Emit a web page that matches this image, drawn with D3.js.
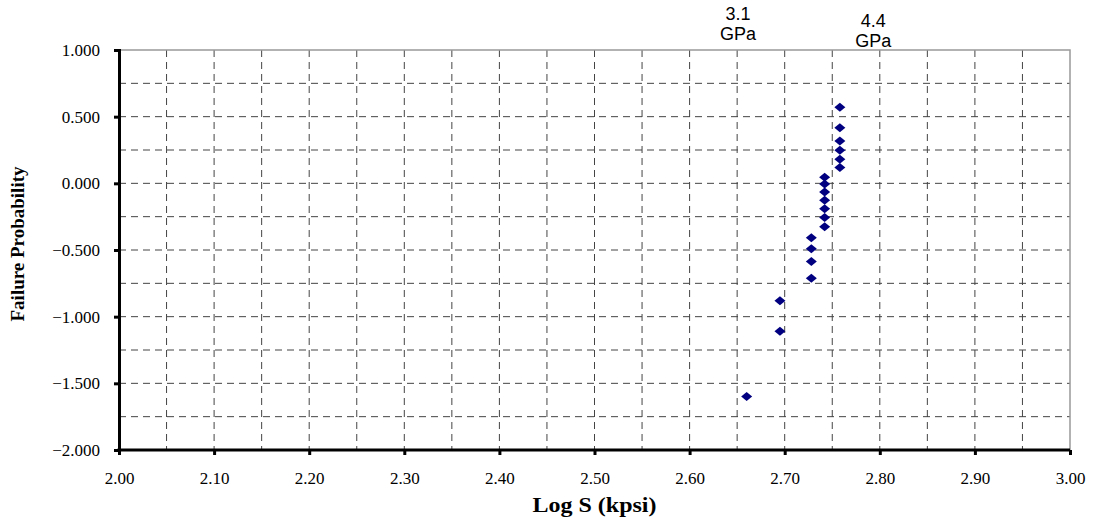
<!DOCTYPE html>
<html><head><meta charset="utf-8">
<script src="https://cdn.jsdelivr.net/npm/d3@7"></script>
<style>body{margin:0;background:#fff}</style>
</head><body>
<svg id="c" width="1097" height="519"></svg>
<script>
const logS = [2.660, 2.695, 2.695, 2.728, 2.728, 2.728, 2.728,
  2.742, 2.742, 2.742, 2.742, 2.742, 2.742, 2.742,
  2.758, 2.758, 2.758, 2.758, 2.758, 2.758];
const failProb = [-1.599, -1.110, -0.880, -0.712, -0.586, -0.491, -0.408,
  -0.326, -0.256, -0.190, -0.126, -0.065, -0.005, 0.045,
  0.118, 0.180, 0.248, 0.318, 0.416, 0.571];
const xTicks = [2.0, 2.1, 2.2, 2.3, 2.4, 2.5, 2.6, 2.7, 2.8, 2.9, 3.0];
const yTicks = [-2, -1.5, -1, -0.5, 0, 0.5, 1];
const xGrid = [2.05,2.1,2.15,2.2,2.25,2.3,2.35,2.4,2.45,2.5,2.55,2.6,2.65,2.7,2.75,2.8,2.85,2.9,2.95];
const yGrid = [-1.75,-1.5,-1.25,-1,-0.75,-0.5,-0.25,0,0.25,0.5,0.75];
const annotations = [{lines:["3.1","GPa"], x:2.651}, {lines:["4.4","GPa"], x:2.793}];

const SERIF = "'Liberation Serif', 'Times New Roman', serif";
const svg = d3.select("#c");
const L = 119, R = 1070, T = 50, B = 450;
const x = d3.scaleLinear().domain([2, 3]).range([L, R]);
const y = d3.scaleLinear().domain([-2, 1]).range([B, T]);

// grid
svg.append("g").selectAll("line").data(xGrid).join("line")
  .attr("x1", d => x(d)).attr("x2", d => x(d)).attr("y1", T).attr("y2", B)
  .attr("stroke", "#444").attr("stroke-width", 1).attr("stroke-dasharray", "7,5");
svg.append("g").selectAll("line").data(yGrid).join("line")
  .attr("x1", L).attr("x2", R).attr("y1", d => y(d)).attr("y2", d => y(d))
  .attr("stroke", "#444").attr("stroke-width", 1).attr("stroke-dasharray", "7,5");
// border top/right
svg.append("path").attr("d", `M${L},${T}H${R}V${B}`).attr("fill", "none")
  .attr("stroke", "#999").attr("stroke-width", 1.5);

// axes
const xAxis = d3.axisBottom(x).tickValues(xTicks).tickFormat(d3.format(".2f")).tickSize(5).tickPadding(17);
const gx = svg.append("g").attr("transform", `translate(0,${B})`).call(xAxis);
const yAxis = d3.axisLeft(y).tickValues(yTicks).tickFormat(d3.format(".3f")).tickSize(5).tickPadding(14);
const gy = svg.append("g").attr("transform", `translate(${L},0)`).call(yAxis);
[gx, gy].forEach(g => {
  g.select(".domain").attr("stroke", "#000").attr("stroke-width", 3);
  g.selectAll(".tick line").attr("stroke", "#000").attr("stroke-width", 3);
  g.selectAll("text").style("font-family", SERIF).style("font-size", "17px").attr("fill", "#000");
});
gx.select(".domain").attr("d", `M${L-1.5},0H${R}`);

// axis titles
svg.append("text").attr("x", (L + R) / 2).attr("y", 512).attr("text-anchor", "middle")
  .style("font-family", SERIF).style("font-weight", "bold").style("font-size", "20px")
  .attr("textLength", 124).attr("lengthAdjust", "spacingAndGlyphs").text("Log S (kpsi)");
svg.append("text").attr("transform", `translate(24,${(T + B) / 2 - 6}) rotate(-90)`).attr("text-anchor", "middle")
  .style("font-family", SERIF).style("font-weight", "bold").style("font-size", "18px")
  .attr("textLength", 155).attr("lengthAdjust", "spacingAndGlyphs").text("Failure Probability");

// points
const pts = logS.map((v, i) => ({x: v, y: failProb[i]}));
svg.append("g").selectAll("path").data(pts).join("path")
  .attr("transform", d => `translate(${x(d.x)},${y(d.y)})`)
  .attr("d", "M0,-4.5L5.5,0L0,4.5L-5.5,0Z").attr("fill", "#000080");

// annotations
const ann = svg.append("g").style("font-family", "'Liberation Sans', Arial, sans-serif").style("font-size", "18px").attr("fill", "#000");
const annY = [[20, 40], [27, 47]];
annotations.forEach((a, i) => {
  a.lines.forEach((t, j) => {
    ann.append("text").attr("x", x(a.x)).attr("y", annY[i][j])
      .attr("text-anchor", "middle").text(t);
  });
});
</script>
</body></html>
